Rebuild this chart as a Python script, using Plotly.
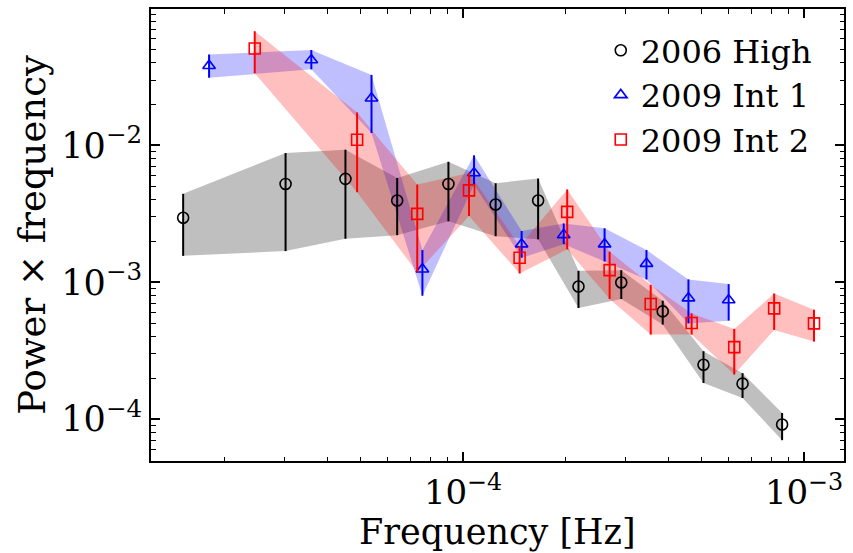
import plotly.graph_objects as go

# 2006 High
f_2006 = [1.511e-5, 3.017e-5, 4.52e-5, 6.41e-5, 9.06e-5, 1.246e-4, 1.66e-4,
          2.18e-4, 2.91e-4, 3.85e-4, 5.07e-4, 6.60e-4, 8.62e-4]
p_2006 = [2.96e-3, 5.23e-3, 5.69e-3, 3.96e-3, 5.23e-3, 3.70e-3, 3.96e-3,
          9.32e-4, 9.97e-4, 6.13e-4, 2.50e-4, 1.82e-4, 9.15e-5]
hi_2006 = [4.43e-3, 8.79e-3, 9.3e-3, 5.78e-3, 7.59e-3, 5.29e-3, 5.73e-3,
           1.213e-3, 1.227e-3, 7.34e-4, 3.14e-4, 2.17e-4, 1.11e-4]
lo_2006 = [1.56e-3, 1.69e-3, 2.08e-3, 2.21e-3, 2.79e-3, 2.17e-3, 2.06e-3,
           6.49e-4, 7.55e-4, 4.91e-4, 1.84e-4, 1.43e-4, 7.03e-5]

# 2009 Int 1
f_int1 = [1.80e-5, 3.59e-5, 5.39e-5, 7.60e-5, 1.077e-4, 1.485e-4, 1.973e-4,
          2.60e-4, 3.45e-4, 4.58e-4, 6.01e-4]
p_int1 = [3.82e-2, 4.20e-2, 2.21e-2, 1.247e-3, 6.29e-3, 1.90e-3, 2.22e-3,
          1.90e-3, 1.37e-3, 7.67e-4, 7.43e-4]
hi_int1 = [4.61e-2, 4.97e-2, 3.27e-2, 1.72e-3, 8.46e-3, 2.37e-3, 2.69e-3,
           2.48e-3, 1.72e-3, 1.05e-3, 9.70e-4]
lo_int1 = [3.12e-2, 3.59e-2, 1.23e-2, 7.98e-4, 5.18e-3, 1.51e-3, 1.90e-3,
           1.42e-3, 1.05e-3, 5.01e-4, 5.25e-4]

# 2009 Int 2
f_int2 = [2.45e-5, 4.89e-5, 7.34e-5, 1.041e-4, 1.465e-4, 2.02e-4, 2.69e-4,
          3.55e-4, 4.68e-4, 6.24e-4, 8.17e-4, 1.069e-3]
p_int2 = [5.10e-2, 1.10e-2, 3.16e-3, 4.69e-3, 1.51e-3, 3.27e-3, 1.227e-3,
          6.94e-4, 5.05e-4, 3.36e-4, 6.45e-4, 5.01e-4]
hi_int2 = [6.82e-2, 1.74e-2, 5.18e-3, 6.29e-3, 1.84e-3, 4.77e-3, 1.675e-3,
           9.59e-4, 5.93e-4, 4.57e-4, 8.29e-4, 6.31e-4]
lo_int2 = [3.36e-2, 4.55e-3, 1.18e-3, 3.05e-3, 1.16e-3, 1.74e-3, 7.55e-4,
           4.15e-4, 4.15e-4, 2.12e-4, 4.49e-4, 3.69e-4]

x_title = "Frequency [Hz]"
y_title = "Power \u00d7 frequency"

series = [
    ("2006 High", f_2006, p_2006, lo_2006, hi_2006, "black", "rgba(0,0,0,0.25)", "circle-open"),
    ("2009 Int 1", f_int1, p_int1, lo_int1, hi_int1, "blue", "rgba(0,0,255,0.25)", "triangle-up-open"),
    ("2009 Int 2", f_int2, p_int2, lo_int2, hi_int2, "red", "rgba(255,0,0,0.25)", "square-open"),
]

FONT = "DejaVu Serif"
fig = go.Figure()

for name, f, p, lo, hi, col, fill, sym in series:
    fig.add_trace(go.Scatter(
        x=list(f) + list(f)[::-1], y=list(hi) + list(lo)[::-1],
        fill="toself", fillcolor=fill, line=dict(width=0), mode="lines",
        showlegend=False, hoverinfo="skip"))

for name, f, p, lo, hi, col, fill, sym in series:
    fig.add_trace(go.Scatter(
        x=f, y=p, mode="markers", name=name,
        marker=dict(symbol=sym, size=11, color=col, line=dict(width=1.6, color=col)),
        error_y=dict(type="data", symmetric=False,
                     array=[h - v for h, v in zip(hi, p)],
                     arrayminus=[v - l for l, v in zip(lo, p)],
                     color=col, thickness=2, width=0)))

xmajor = [1e-4, 1e-3]
xminor = [k * 10.0 ** e for e in (-5, -4, -3) for k in range(2, 10)]
ymajor = [1e-4, 1e-3, 1e-2]
yminor = [k * 10.0 ** e for e in (-5, -4, -3, -2) for k in range(2, 10)]

axis_common = dict(type="log", showgrid=False, zeroline=False, showline=True,
                   linecolor="black", linewidth=2, mirror="allticks",
                   ticks="inside", ticklen=9, tickwidth=1.5, tickcolor="black")

fig.update_xaxes(**axis_common, range=[-4.915, -2.883],
                 tickmode="array", tickvals=xmajor,
                 ticktext=["10<sup>\u22124</sup>", "10<sup>\u22123</sup>"],
                 tickfont=dict(family=FONT, size=34, color="black"),
                 minor=dict(tickmode="array", tickvals=xminor, ticks="inside",
                            ticklen=4.5, tickwidth=1, tickcolor="black"))
fig.update_yaxes(**axis_common, range=[-4.305, -1.004],
                 tickmode="array", tickvals=ymajor,
                 ticktext=["10<sup>\u22124</sup>", "10<sup>\u22123</sup>", "10<sup>\u22122</sup>"],
                 tickfont=dict(family=FONT, size=35, color="black"),
                 minor=dict(tickmode="array", tickvals=yminor, ticks="inside",
                            ticklen=4.5, tickwidth=1, tickcolor="black"))

# axis titles placed as annotations (paper coords relative to plot area)
fig.add_annotation(text=x_title, xref="paper", yref="paper", x=0.5, y=-0.156,
                   xanchor="center", yanchor="middle", showarrow=False,
                   font=dict(family=FONT, size=35, color="black"))
fig.add_annotation(text=y_title, xref="paper", yref="paper", x=-0.172, y=0.5,
                   xanchor="center", yanchor="middle", textangle=-90, showarrow=False,
                   font=dict(family=FONT, size=37, color="black"))

fig.update_layout(
    width=853, height=553,
    margin=dict(l=151, r=7, t=7, b=92),
    plot_bgcolor="white", paper_bgcolor="white",
    font=dict(family=FONT, size=30, color="black"),
    legend=dict(x=0.649, y=0.969, xanchor="left", yanchor="top",
                bgcolor="rgba(0,0,0,0)", font=dict(family=FONT, size=32, color="black"),
                tracegroupgap=0, itemwidth=30),
)

fig.write_html("out.html")
